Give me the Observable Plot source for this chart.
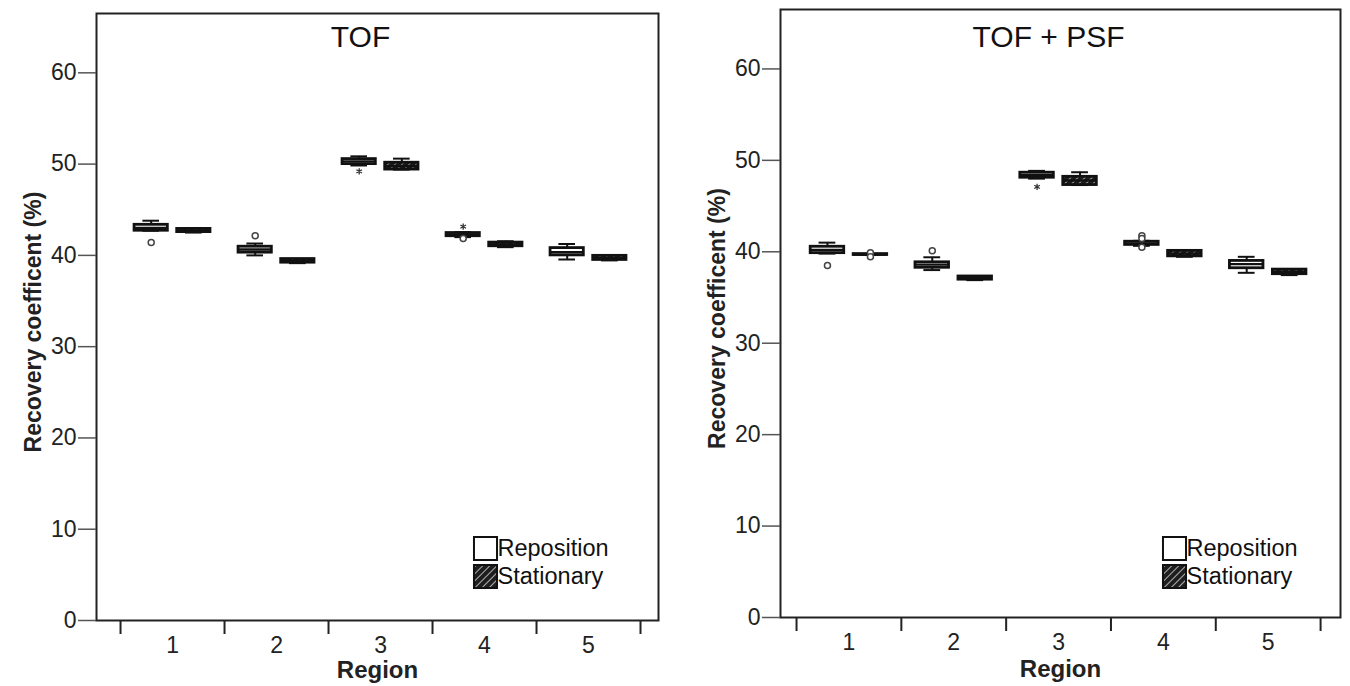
<!DOCTYPE html>
<html>
<head>
<meta charset="utf-8">
<script src="https://cdn.jsdelivr.net/npm/d3@7"></script>
<script src="https://cdn.jsdelivr.net/npm/@observablehq/plot@0.6"></script>
<style>
  html, body { margin: 0; padding: 0; background: #fff; }
  #wrap { position: relative; width: 1350px; height: 686px; overflow: hidden; font-family: "Liberation Sans", Arial, sans-serif; }
  .panel { position: absolute; top: 0; }
  .tag { position: absolute; top: 8px; font: bold 19px "Liberation Sans", Arial, sans-serif; color: #222; }
  svg text { font-family: "Liberation Sans", Arial, sans-serif; }
</style>
</head>
<body>
<svg width="0" height="0" style="position:absolute">
  <defs>
    <pattern id="hatch" patternUnits="userSpaceOnUse" width="5" height="5" patternTransform="rotate(45)">
      <rect width="5" height="5" fill="#1e1e1e"></rect>
      <line x1="0" y1="0" x2="0" y2="5" stroke="#d8d8d8" stroke-width="1.6"></line>
    </pattern>
  </defs>
</svg>
<div id="wrap">
  <div class="tag" style="left:8px">(a)</div>
  <div class="tag" style="left:693px">(b)</div>
  <div class="panel" id="pa" style="left:0px"></div>
  <div class="panel" id="pb" style="left:675px"></div>
</div>
<script>
// ---- data ----
const regions = [1, 2, 3, 4, 5];
const groups = ["Reposition", "Stationary"];
const yTicks = [0, 10, 20, 30, 40, 50, 60];
const titles = ["TOF", "TOF + PSF"];
const yLabel = "Recovery coefficent (%)";
const xLabel = "Region";

// [region, group, lowWhisker, q1, median, q3, highWhisker]
const tofBoxes = [
  [1, "Reposition", 42.7, 42.7, 43.0, 43.35, 43.8],
  [1, "Stationary", 42.5, 42.55, 42.7, 42.9, 42.95],
  [2, "Reposition", 40.0, 40.3, 40.65, 40.95, 41.3],
  [2, "Stationary", 39.15, 39.2, 39.35, 39.6, 39.6],
  [3, "Reposition", 49.85, 50.0, 50.3, 50.55, 50.85],
  [3, "Stationary", 49.4, 49.4, 49.8, 50.15, 50.6],
  [4, "Reposition", 42.0, 42.1, 42.3, 42.45, 42.55],
  [4, "Stationary", 40.9, 41.0, 41.2, 41.4, 41.55],
  [5, "Reposition", 39.55, 40.0, 40.35, 40.8, 41.25],
  [5, "Stationary", 39.45, 39.5, 39.7, 39.95, 40.0]
];
// [region, group, value, kind]  kind: "o" outlier, "*" extreme
const tofOutliers = [
  [1, "Reposition", 41.4, "o"],
  [2, "Reposition", 42.15, "o"],
  [3, "Reposition", 49.2, "*"],
  [4, "Reposition", 43.15, "*"],
  [4, "Reposition", 41.85, "o"]
];
const psfBoxes = [
  [1, "Reposition", 39.8, 39.85, 40.2, 40.55, 41.0],
  [1, "Stationary", 39.65, 39.65, 39.7, 39.75, 39.75],
  [2, "Reposition", 38.0, 38.25, 38.6, 38.85, 39.4],
  [2, "Stationary", 36.9, 36.95, 37.1, 37.3, 37.35],
  [3, "Reposition", 48.0, 48.1, 48.4, 48.65, 48.85],
  [3, "Stationary", 47.3, 47.3, 47.8, 48.2, 48.7],
  [4, "Reposition", 40.65, 40.75, 40.9, 41.1, 41.2],
  [4, "Stationary", 39.45, 39.5, 39.8, 40.1, 40.15],
  [5, "Reposition", 37.7, 38.2, 38.65, 39.0, 39.45],
  [5, "Stationary", 37.45, 37.55, 37.8, 38.05, 38.1]
];
const psfOutliers = [
  [1, "Reposition", 38.5, "o"],
  [1, "Stationary", 39.9, "o"],
  [1, "Stationary", 39.45, "o"],
  [2, "Reposition", 40.1, "o"],
  [3, "Reposition", 47.1, "*"],
  [4, "Reposition", 41.75, "o"],
  [4, "Reposition", 41.45, "o"],
  [4, "Reposition", 40.5, "o"]
];

// ---- layout helpers ----
const OFF = 0.205, HALF = 0.16, CAP = 0.08;
const pos = (r, g) => r + (g === groups[0] ? -OFF : OFF);
const toBox = ([region, group, lo, q1, med, q3, hi]) => ({region, group, lo, q1, med, q3, hi, xc: pos(region, group)});
const toOut = ([region, group, value, kind]) => ({region, group, value, kind, xc: pos(region, group)});
const bounds = regions.map(r => r - 0.5).concat([regions[regions.length - 1] + 0.5]);

function panel(cfg) {
  const boxes = cfg.boxes.map(toBox);
  const outs = cfg.outliers.map(toOut);
  const rep = boxes.filter(d => d.group === groups[0]);
  const sta = boxes.filter(d => d.group === groups[1]);
  return Plot.plot({
    width: 675,
    height: 686,
    marginLeft: cfg.ml,
    marginRight: cfg.mr,
    marginTop: cfg.mt,
    marginBottom: cfg.mb,
    style: {fontFamily: "Liberation Sans, Arial, sans-serif", color: "#222", background: "white"},
    x: {domain: cfg.xd, axis: null},
    y: {domain: [0, 66.5], axis: null},
    marks: [
      Plot.frame({stroke: "#222", strokeWidth: 2}),
      Plot.axisY(yTicks, {tickSize: 18, tickPadding: 2, fontSize: 23, label: null, stroke: "#555", strokeWidth: 1.5}),
      Plot.axisX(bounds, {tickSize: 14, tickFormat: () => "", label: null, strokeWidth: 2, stroke: "#222"}),
      Plot.axisX(regions, {tickSize: 0, tickPadding: 16, fontSize: 23, label: null}),
      Plot.text([xLabel], {frameAnchor: "bottom", lineAnchor: "middle", dy: cfg.xlDy, fontSize: 24, fontWeight: "bold", fill: "#222"}),
      Plot.text([yLabel], {frameAnchor: "left", textAnchor: "middle", lineAnchor: "middle", dx: -63, dy: 5, rotate: -90, fontSize: 23, fontWeight: "bold", fill: "#222"}),
      Plot.text([cfg.title], {frameAnchor: "top", lineAnchor: "middle", dx: cfg.tDx, dy: cfg.tDy, fontSize: 30, fontFamily: "Open Sans, Lato, sans-serif", fill: "#111"}),
      // whiskers
      Plot.ruleX(boxes, {x: "xc", y1: "lo", y2: "hi", stroke: "#111", strokeWidth: 2}),
      Plot.ruleY(boxes, {y: "hi", x1: d => d.xc - CAP, x2: d => d.xc + CAP, stroke: "#111", strokeWidth: 2}),
      Plot.ruleY(boxes, {y: "lo", x1: d => d.xc - CAP, x2: d => d.xc + CAP, stroke: "#111", strokeWidth: 2}),
      // boxes
      Plot.rect(rep, {x1: d => d.xc - HALF, x2: d => d.xc + HALF, y1: "q1", y2: "q3", fill: "white", stroke: "#111", strokeWidth: 2.8}),
      Plot.rect(sta, {x1: d => d.xc - HALF, x2: d => d.xc + HALF, y1: "q1", y2: "q3", fill: "url(#hatch)", stroke: "#111", strokeWidth: 2.8}),
      Plot.ruleY(boxes, {y: "med", x1: d => d.xc - HALF, x2: d => d.xc + HALF, stroke: "#111", strokeWidth: 2.4}),
      // outliers
      Plot.dot(outs.filter(d => d.kind === "o"), {x: "xc", y: "value", r: 3, stroke: "#444", strokeWidth: 1.5, fill: "white"}),
      Plot.dot(outs.filter(d => d.kind === "*"), {x: "xc", y: "value", r: 3, symbol: "asterisk", stroke: "#333", strokeWidth: 1.3}),
      // legend
      Plot.dot([groups[0]], {frameAnchor: "bottom-right", dx: cfg.lgDx, dy: cfg.lgDy1, symbol: "square", r: 13, fill: "white", stroke: "#111", strokeWidth: 2}),
      Plot.dot([groups[1]], {frameAnchor: "bottom-right", dx: cfg.lgDx, dy: cfg.lgDy2, symbol: "square", r: 13, fill: "url(#hatch)", stroke: "#111", strokeWidth: 2}),
      Plot.text([groups[0]], {frameAnchor: "bottom-right", dx: cfg.lgDx + 12, dy: cfg.lgDy1, textAnchor: "start", lineAnchor: "middle", fontSize: 23.5, fill: "#111"}),
      Plot.text([groups[1]], {frameAnchor: "bottom-right", dx: cfg.lgDx + 12, dy: cfg.lgDy2, textAnchor: "start", lineAnchor: "middle", fontSize: 23.5, fill: "#111"})
    ]
  });
}

document.getElementById("pa").appendChild(panel({
  boxes: tofBoxes, outliers: tofOutliers, title: titles[0],
  ml: 96, mr: 17, mt: 13, mb: 66,
  xd: [0.269, 5.673],
  xlDy: 50, tDx: -17, tDy: 24,
  lgDx: -173, lgDy1: -72, lgDy2: -44
}));
document.getElementById("pb").appendChild(panel({
  boxes: psfBoxes, outliers: psfOutliers, title: titles[1],
  ml: 105, mr: 10, mt: 9, mb: 69,
  xd: [0.347, 5.69],
  xlDy: 52, tDx: -12, tDy: 28,
  lgDx: -166, lgDy1: -69, lgDy2: -41
}));
</script>
</body>
</html>
